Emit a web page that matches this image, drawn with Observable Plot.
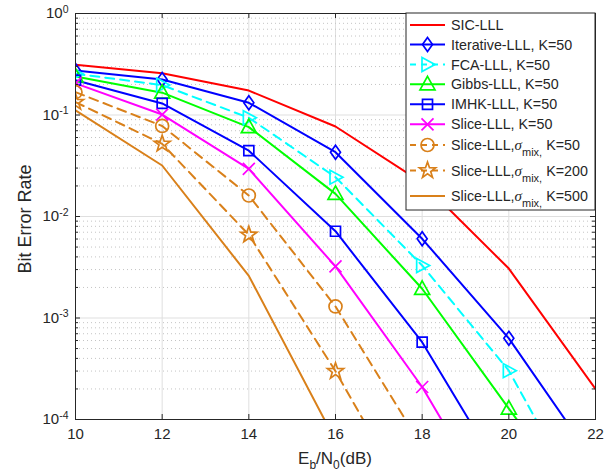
<!DOCTYPE html>
<html><head><meta charset="utf-8">
<script src="https://cdn.jsdelivr.net/npm/d3@7"></script>
<script src="https://cdn.jsdelivr.net/npm/@observablehq/plot@0.6"></script>
<style>body{margin:0;background:#fff;} #chart{width:610px;height:476px;}</style>
</head><body><div id="chart"></div>
<script>
// ---- data ----
const snr = [10, 12, 14, 16, 18, 20, 22];
const sicLLL       = [0.312, 0.258, 0.174, 0.077, 0.0216, 0.00307, 0.0002];
const iterativeLLL = [0.275, 0.224, 0.132, 0.043, 0.00603, 0.00063, 3.7e-5];
const fcaLLL       = [0.255, 0.197, 0.094, 0.0244, 0.00329, 0.000303, 8.7e-6];
const gibbsLLL     = [0.24, 0.166, 0.076, 0.0167, 0.00194, 0.000128, 8.9e-6];
const imhkLLL      = [0.22, 0.13, 0.0445, 0.00716, 0.000578, 2.2e-5];
const sliceLLL     = [0.205, 0.101, 0.0295, 0.00322, 0.000209, 7.5e-6];
const sliceMix50   = [0.168, 0.078, 0.0161, 0.0013, 5.4e-5];
const sliceMix200  = [0.134, 0.052, 0.0066, 0.000299, 9.5e-6];
const sliceMix500  = [0.111, 0.0318, 0.0026, 6.2e-5];

const seriesValues = [sicLLL, iterativeLLL, fcaLLL, gibbsLLL, imhkLLL, sliceLLL, sliceMix50, sliceMix200, sliceMix500];
const seriesNames = ["SIC-LLL", "Iterative-LLL, K=50", "FCA-LLL, K=50", "Gibbs-LLL, K=50", "IMHK-LLL, K=50", "Slice-LLL, K=50", "Slice-LLL,σmix, K=50", "Slice-LLL,σmix, K=200", "Slice-LLL,σmix, K=500"];
const seriesColors = ["#ff0000", "#0000ff", "#00ffff", "#00ff00", "#0000ff", "#ff00ff", "#d9801a", "#d9801a", "#d9801a"];
const seriesDashed = [false, false, true, false, false, false, true, true, false];
const seriesMarker = ["none", "diamond", "triRight", "triUp", "square", "cross", "circle", "star", "none"];

const xTicks = [10, 12, 14, 16, 18, 20, 22];
const yMajor = [1e-4, 1e-3, 1e-2, 1e-1, 1];
const yMinor = [];
for (let e = -4; e < 0; e++) for (let k = 2; k <= 9; k++) yMinor.push(k * Math.pow(10, e));

// ---- marker shapes ----
const symbols = {
  diamond: {draw(c) { c.moveTo(0, -7); c.lineTo(5, 0); c.lineTo(0, 7); c.lineTo(-5, 0); c.closePath(); }},
  triRight: {draw(c) { c.moveTo(-5.5, -7); c.lineTo(7.5, 0); c.lineTo(-5.5, 7); c.closePath(); }},
  triUp: {draw(c) { c.moveTo(0, -8); c.lineTo(7.5, 5.5); c.lineTo(-7.5, 5.5); c.closePath(); }},
  square: {draw(c) { c.moveTo(-5, -5); c.lineTo(5, -5); c.lineTo(5, 5); c.lineTo(-5, 5); c.closePath(); }},
  cross: {draw(c) { c.moveTo(-6, -6); c.lineTo(6, 6); c.moveTo(6, -6); c.lineTo(-6, 6); }},
  circle: {draw(c) { c.moveTo(6.5, 0); c.arc(0, 0, 6.5, 0, 2 * Math.PI); c.closePath(); }},
  star: {draw(c) {
    const R = 8.5, r = 3.4;
    for (let i = 0; i < 10; i++) {
      const a = -Math.PI / 2 + i * Math.PI / 5, rr = i % 2 ? r : R;
      const px = rr * Math.cos(a), py = rr * Math.sin(a);
      if (i === 0) c.moveTo(px, py); else c.lineTo(px, py);
    }
    c.closePath();
  }}
};

const W = 610, H = 476, mL = 75, mR = 15, mT = 13, mB = 57;
const plotW = W - mL - mR, plotH = H - mT - mB;
const ink = "#262626";
const fontMain = "'Liberation Sans', Arial, Helvetica, sans-serif";

const marks = [
  Plot.gridX([12, 14, 16, 18, 20], {stroke: "#dfdfdf", strokeOpacity: 1, strokeWidth: 1}),
  Plot.gridY(yMinor, {stroke: "#c4c4c4", strokeOpacity: 1, strokeWidth: 1, strokeDasharray: "1,3"}),
  Plot.gridY(yMajor, {stroke: "#dfdfdf", strokeOpacity: 1, strokeWidth: 1})
];

seriesValues.forEach((vals, i) => {
  const pts = vals.map((v, j) => ({x: snr[j], y: v}));
  marks.push(Plot.line(pts, {x: "x", y: "y", stroke: seriesColors[i], strokeWidth: 2,
    strokeDasharray: seriesDashed[i] ? "9,6" : null, clip: true}));
});
seriesValues.forEach((vals, i) => {
  if (seriesMarker[i] === "none") return;
  const pts = vals.map((v, j) => ({x: snr[j], y: v}));
  marks.push(Plot.dot(pts, {x: "x", y: "y", symbol: symbols[seriesMarker[i]], r: 5,
    stroke: seriesColors[i], fill: "none", strokeWidth: 1.7, clip: true}));
});

marks.push(
  Plot.frame({stroke: ink, strokeWidth: 1}),
  Plot.tickX(xTicks, {x: d => d, insetTop: plotH - 5, stroke: ink}),
  Plot.tickX(xTicks, {x: d => d, insetBottom: plotH - 5, stroke: ink}),
  Plot.tickY(yMajor, {y: d => d, insetRight: plotW - 5, stroke: ink}),
  Plot.tickY(yMajor, {y: d => d, insetLeft: plotW - 5, stroke: ink}),
  Plot.tickY(yMinor, {y: d => d, insetRight: plotW - 3, stroke: ink}),
  Plot.tickY(yMinor, {y: d => d, insetLeft: plotW - 3, stroke: ink}),
  Plot.axisX(xTicks, {tickSize: 0, tickPadding: 9, fontSize: 15, label: null, fill: ink}),
  Plot.axisY(yMajor, {tickSize: 0, tickPadding: 7, fontSize: 15, label: null, fill: ink,
    tickFormat: d => "10^" + Math.round(Math.log10(d))})
);

const chart = Plot.plot({
  width: W, height: H,
  marginLeft: mL, marginRight: mR, marginTop: mT, marginBottom: mB,
  style: {fontFamily: fontMain, fontSize: "15px", background: "#fff", color: ink},
  x: {domain: [10, 22]},
  y: {type: "log", domain: [1e-4, 1]},
  marks
});
document.getElementById("chart").appendChild(chart);

const svg = d3.select(chart);

// superscript y tick labels
svg.selectAll('[aria-label="y-axis tick label"] text').each(function() {
  const t = d3.select(this);
  const s = t.text();
  const exp = s.split("^")[1];
  t.text(null);
  t.append("tspan").text("10");
  t.append("tspan").attr("dy", "-0.55em").attr("font-size", "10.5px").text(exp);
});

// axis labels
const xl = svg.append("text").attr("x", mL + plotW / 2).attr("y", 464)
  .attr("text-anchor", "middle").attr("fill", ink).attr("font-size", "17px").attr("font-family", fontMain);
xl.append("tspan").text("E");
xl.append("tspan").attr("dy", 5).attr("font-size", "12px").text("b");
xl.append("tspan").attr("dy", -5).text("/N");
xl.append("tspan").attr("dy", 5).attr("font-size", "12px").text("0");
xl.append("tspan").attr("dy", -5).text("(dB)");

svg.append("text").attr("transform", `translate(31,${mT + plotH / 2 + 3}) rotate(-90)`)
  .attr("text-anchor", "middle").attr("fill", ink).attr("font-size", "18px").attr("font-family", fontMain)
  .text("Bit Error Rate");

// legend
const lg = svg.append("g").attr("font-family", fontMain).attr("font-size", "14.3px").attr("text-anchor", "start");
lg.append("rect").attr("x", 406).attr("y", 13).attr("width", 189).attr("height", 197)
  .attr("fill", "#fff").attr("stroke", ink).attr("stroke-width", 1);
const rowY = [25, 44.5, 64.5, 84.3, 104.3, 124.3, 145, 170.5, 196];
seriesNames.forEach((name, i) => {
  const y = rowY[i];
  lg.append("line").attr("x1", 410).attr("x2", 445).attr("y1", y).attr("y2", y)
    .attr("stroke", seriesColors[i]).attr("stroke-width", 2)
    .attr("stroke-dasharray", seriesDashed[i] ? "6,5" : null);
  if (seriesMarker[i] !== "none") {
    lg.append("path").attr("d", d3.symbol(symbols[seriesMarker[i]])())
      .attr("transform", `translate(427.5,${y})`).attr("fill", "none")
      .attr("stroke", seriesColors[i]).attr("stroke-width", 1.7);
  }
  const t = lg.append("text").attr("x", 451).attr("y", y + 5).attr("fill", ink).attr("text-anchor", "start");
  if (name.includes("σmix")) {
    const [pre, post] = name.split("σmix,");
    t.append("tspan").text(pre);
    t.append("tspan").attr("font-family", "'Liberation Serif', 'DejaVu Serif', serif").attr("font-style", "italic").attr("font-size", "15px").text("σ");
    t.append("tspan").attr("dy", 6).attr("font-size", "11px").text("mix,");
    t.append("tspan").attr("dy", -6).text(post);
  } else {
    t.text(name);
  }
});
</script>
</body></html>
